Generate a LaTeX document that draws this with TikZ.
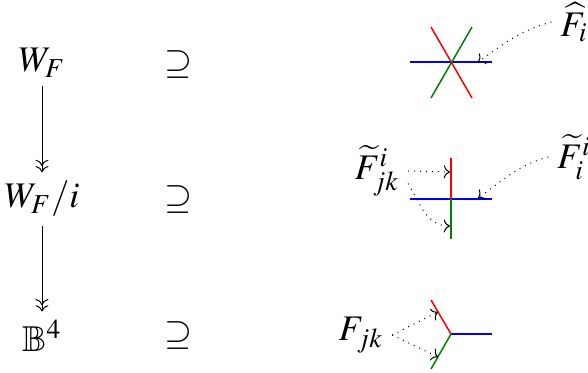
\documentclass[tikz,border=0pt]{standalone}
\usepackage{amsmath,amssymb}
\usepackage{mathptmx}
\usepackage{tikz}
\usetikzlibrary{positioning, arrows.meta, calc}

\begin{document}
\begin{tikzpicture}[x=0.4pt, y=-0.4pt, font=\Large,
        pointer/.style={->, dotted},
        onto/.style={->>},
        edge/.style={semithick}]
        \useasboundingbox (0,0) rectangle (588,373);

        % Левый столбец: пространства и проекции
        \node (wf) at (42,63) {$W_F$};
        \node (wfi) at (42,199) {$W_F/i$};
        \node (ball) at (42,336) {$\mathbb{B}^4$};
        \node (sup1) at (178,64) {$\supseteq$};
        \node (sup2) at (178,199) {$\supseteq$};
        \node (sup3) at (178,335) {$\supseteq$};
        \draw[onto] (wf) -- (wfi);
        \draw[onto] (wfi) -- (ball);

        % Верхняя картинка: три прямые
        \draw[edge, blue] (410,62) -- (492,62);
        \draw[edge, red] (431,27) -- (472,98);
        \draw[edge, green!50!black] (431,98) -- (472,27);
        \node (hatF) at (574,22) {$\widehat{F}_i$};
        \coordinate (p1) at (478,62);
        \draw[pointer] (hatF.west) to[out=195, in=35] (p1);

        % Средняя картинка
        \draw[edge, blue] (410,199) -- (492,199);
        \draw[edge, red] (451,158) -- (451,199);
        \draw[edge, green!50!black] (451,199) -- (451,239);
        \node (tFjk) at (377,171) {$\widetilde{F}^i_{jk}$};
        \node (tFii) at (574,157) {$\widetilde{F}^i_i$};
        \coordinate (p2) at (450,172);
        \coordinate (p3) at (450,226);
        \coordinate (p4) at (478,198);
        \draw[pointer] (tFjk.east) -- (p2);
        \draw[pointer] ([yshift=-5pt]tFjk.east) to[out=-60, in=180] (p3);
        \draw[pointer] (tFii.west) to[out=195, in=35] (p4);

        % Нижняя картинка: тройная точка
        \coordinate (c3) at (451,334);
        \draw[edge, blue] (c3) -- (492,334);
        \draw[edge, red] (c3) -- (431,300);
        \draw[edge, green!50!black] (c3) -- (431,369);
        \node (Fjk) at (361,335) {$F_{jk}$};
        \coordinate (p5) at (438,312);
        \coordinate (p6) at (438,357);
        \draw[pointer] (Fjk.east) -- (p5);
        \draw[pointer] (Fjk.east) -- (p6);
\end{tikzpicture}
\end{document}
